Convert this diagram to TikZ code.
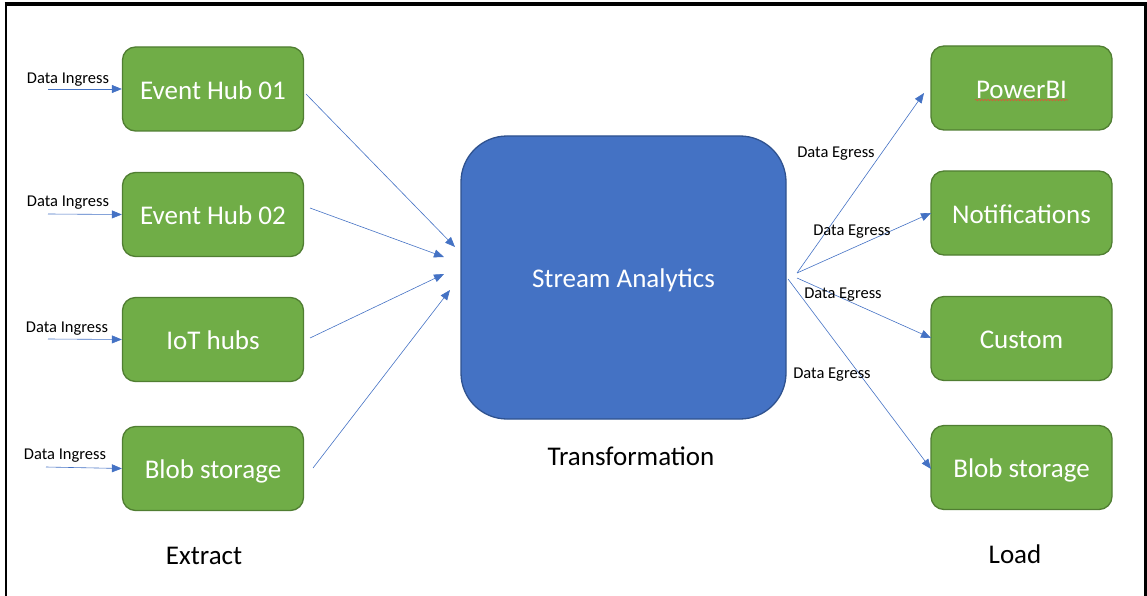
\documentclass[tikz,border=0pt]{standalone}
\usepackage{fontspec}
\setmainfont{Carlito}
\usetikzlibrary{arrows.meta,decorations.pathmorphing}
\definecolor{gfill}{HTML}{70AD47}
\definecolor{gline}{HTML}{507E32}
\definecolor{bfill}{HTML}{4472C4}
\definecolor{bline}{HTML}{2F528F}
\definecolor{arr}{HTML}{4472C4}
\definecolor{squig}{HTML}{D0603A}
\tikzset{
  greenbox/.style={draw=gline, line width=1.3pt, fill=gfill, rounded corners=13pt,
    minimum width=181pt, minimum height=84pt, inner sep=0pt, text=white,
    text height=20.5pt, text depth=0pt,
    font=\fontsize{27}{30}\selectfont},
  bluebox/.style={draw=bline, line width=1.3pt, fill=bfill, rounded corners=46pt,
    minimum width=325pt, minimum height=283pt, inner sep=0pt, text=white,
    text height=20.5pt, text depth=0pt,
    font=\fontsize{27}{30}\selectfont},
  small/.style={inner sep=0pt, text height=13pt, text depth=0pt, font=\fontsize{16.5}{18}\selectfont},
  big/.style={inner sep=0pt, text height=17.5pt, text depth=0pt, font=\fontsize{27}{30}\selectfont},
  flow/.style={draw=arr, line width=0.6pt, -{Triangle[length=10pt,width=8pt]}},
  frame/.style={draw=black},
}
\begin{document}
\begin{tikzpicture}[x=1pt,y=-1pt]
\useasboundingbox (0,0) rectangle (1147,596);
% frame
\draw[frame, line width=2.6pt] (6,596) -- (6,4);
\draw[frame, line width=3pt] (1145,596) -- (1145,4);
\draw[frame, line width=4.5pt] (4.7,4) -- (1146.5,4);

% left boxes
\node[greenbox] (eh1) at (213,89) {Event Hub 01};
\node[greenbox] (eh2) at (213,214.5) {Event Hub 02};
\node[greenbox] (iot) at (213,339.5) {IoT hubs};
\node[greenbox] (blobl) at (213,468.5) {Blob storage};

% right boxes
\node[greenbox] (pbi) at (1021.5,88) {PowerBI};
\node[greenbox] (noti) at (1021.5,213) {Notifications};
\node[greenbox] (cust) at (1021.5,338.5) {Custom};
\node[greenbox] (blobr) at (1021.5,467.5) {Blob storage};

% centre
\node[bluebox] (sa) at (623.5,277.5) {Stream Analytics};
\node[big] (tr) at (631,457) {Transformation};
\node[big] (ex) at (204,556) {Extract};
\node[big] (ld) at (1015,555) {Load};

% spelling squiggle under PowerBI
\draw[squig, line width=0.7pt, decorate, decoration={snake, amplitude=0.6pt, segment length=3pt}] (975,100) -- (1068,100);

% ingress
\coordinate (in1) at (48,89);
\coordinate (in2) at (48,214);
\coordinate (in3) at (48,339);
\coordinate (in4) at (46,467);
\draw[flow] (in1) -- (eh1.west);
\draw[flow] (in2) -- (eh2.west);
\draw[flow] (in3) -- (iot.west);
\draw[flow] (in4) -- (blobl.west);
\node[small] (l1) at (68,77) {Data Ingress};
\node[small] (l2) at (68,200) {Data Ingress};
\node[small] (l3) at (67,326) {Data Ingress};
\node[small] (l4) at (65,453) {Data Ingress};

% into stream analytics
\coordinate (s1) at (306,94);
\coordinate (s2) at (310,208);
\coordinate (s3) at (310,338);
\coordinate (s4) at (313,468);
\coordinate (e1) at (455,247);
\coordinate (e2) at (444,257);
\coordinate (e3) at (444,274);
\coordinate (e4) at (450,290);
\draw[flow] (s1) -- (e1);
\draw[flow] (s2) -- (e2);
\draw[flow] (s3) -- (e3);
\draw[flow] (s4) -- (e4);

% egress
\coordinate (o1) at (797,273);
\coordinate (o2) at (797,278);
\coordinate (o3) at (788,279);
\coordinate (t1) at (924,93);
\coordinate (t2) at (931,213);
\coordinate (t3) at (931,338);
\coordinate (t4) at (931,469);
\draw[flow] (o1) -- (t1);
\draw[flow] (o1) -- (t2);
\draw[flow] (o2) -- (t3);
\draw[flow] (o3) -- (t4);
\node[small] (g1) at (836,151) {Data Egress};
\node[small] (g2) at (852,229) {Data Egress};
\node[small] (g3) at (843,292) {Data Egress};
\node[small] (g4) at (832,372) {Data Egress};
\end{tikzpicture}
\end{document}
